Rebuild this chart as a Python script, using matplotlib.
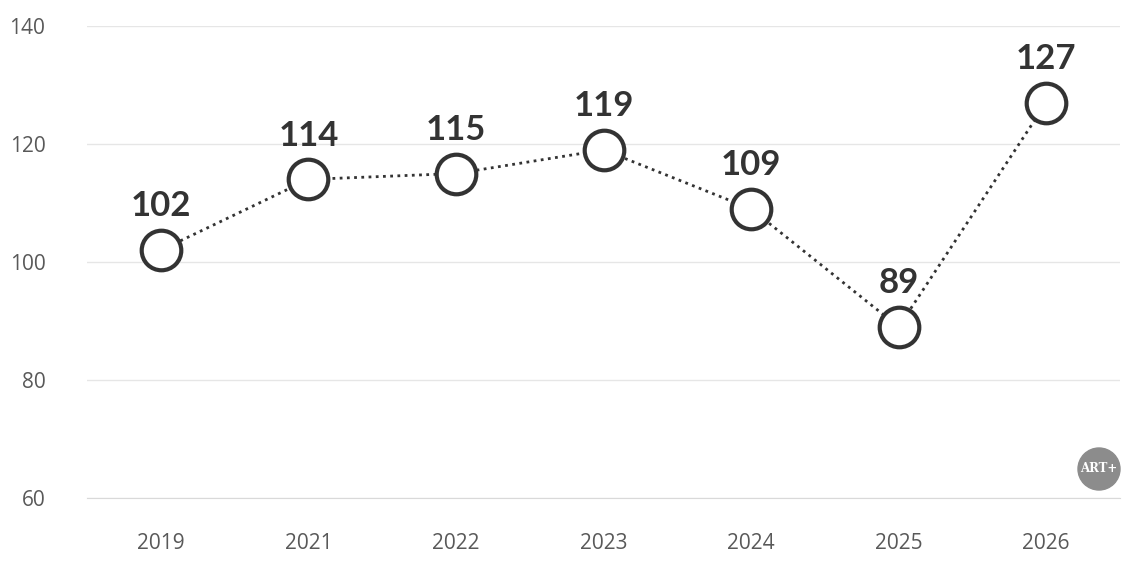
import matplotlib.pyplot as plt
from matplotlib.patches import Ellipse

years = ['2019', '2021', '2022', '2023', '2024', '2025', '2026']
values = [102, 114, 115, 119, 109, 89, 127]
y_ticks = [60, 80, 100, 120, 140]

dark = '#333333'
tick_color = '#595959'

fig = plt.figure(figsize=(11.35, 5.67), dpi=100)
ax = fig.add_axes([0.0767, 0.1217, 0.9101, 0.8324])

x = list(range(len(years)))
ax.plot(x, values, linestyle=(0, (1, 1.6)), color=dark, linewidth=2, zorder=2)
ax.plot(x, values, linestyle='none', marker='o', markersize=28.5,
        markerfacecolor='white', markeredgecolor=dark, markeredgewidth=3, zorder=3)

for xi, v in zip(x, values):
    ax.annotate(str(v), (xi, v), xytext=(0, 20), textcoords='offset points',
                ha='center', va='bottom', fontsize=25, fontweight='bold',
                color=dark, family='Lato')

ax.set_xlim(-0.5, len(years) - 0.5)
ax.set_ylim(60, 140)
ax.set_yticks(y_ticks)
ax.set_xticks(x)
ax.set_xticklabels(years)
ax.grid(axis='y', color='#e6e6e6', linewidth=1)
ax.set_axisbelow(True)
for s in ax.spines.values():
    s.set_visible(False)
# baseline a touch darker than the other gridlines
ax.spines['bottom'].set_visible(True)
ax.spines['bottom'].set_color('#d9d9d9')
ax.tick_params(axis='both', length=0, colors=tick_color, labelsize=15)
ax.tick_params(axis='y', pad=30)
ax.tick_params(axis='x', pad=25)
for lbl in ax.get_xticklabels() + ax.get_yticklabels():
    lbl.set_family('Open Sans')

# logo badge
cx, cy = 1099 / 1135, 1 - 469 / 567
logo = Ellipse((cx, cy), 42 / 1135, 42 / 567, transform=fig.transFigure,
               color='#8c8c8c', zorder=1)
fig.patches.append(logo)
fig.text(cx, cy, 'ART+', ha='center', va='center', color='white', zorder=10,
         fontsize=8.5, fontweight='bold', family='DejaVu Serif')

fig.savefig('out.png', dpi=100)
